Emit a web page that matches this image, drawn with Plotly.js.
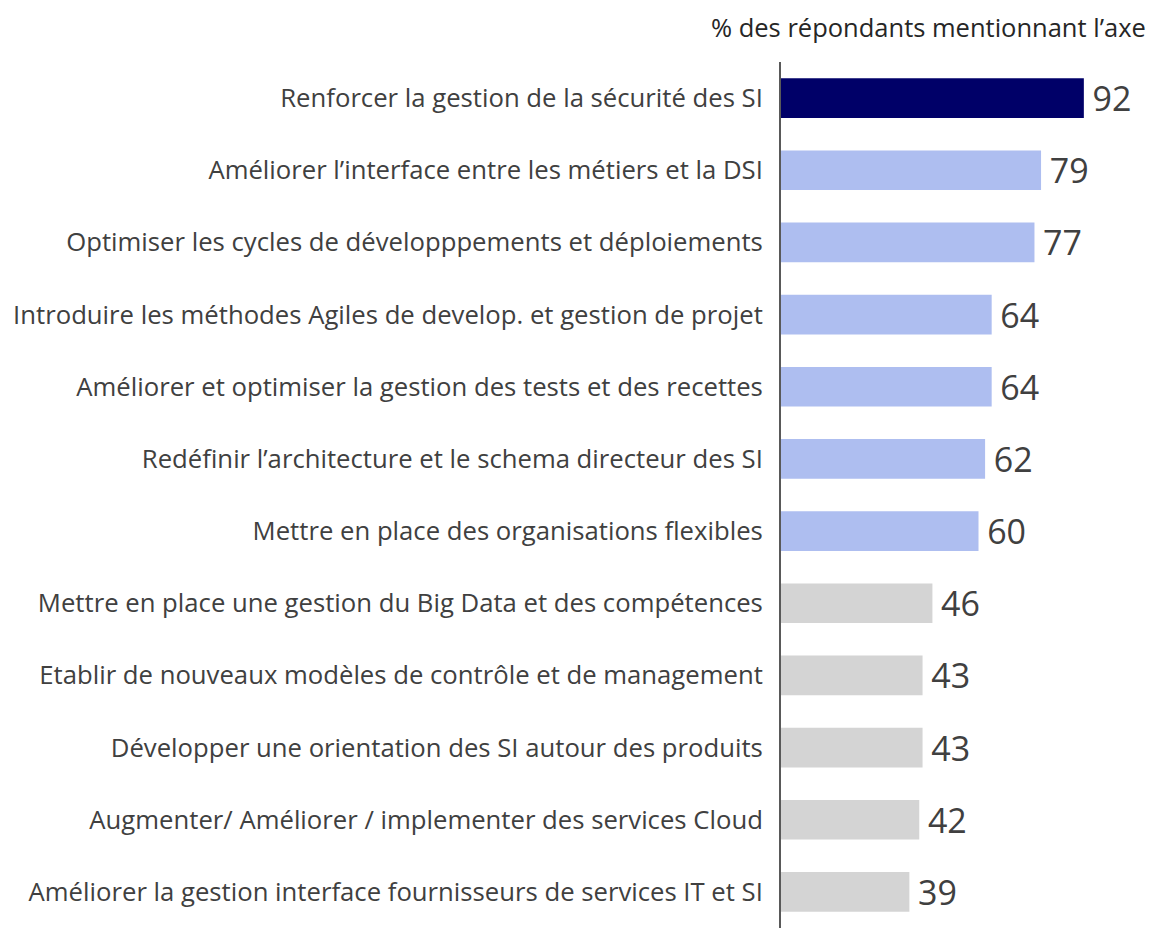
<!DOCTYPE html>
<html>
<head>
<meta charset="utf-8">
<script src="https://cdn.plot.ly/plotly-3.0.1.min.js"></script>
<style>html,body{margin:0;padding:0;background:#fff;}#chart{width:1151px;height:928px;}</style>
</head>
<body>
<div id="chart"></div>
<script>
const categories = [
  "Renforcer la gestion de la sécurité des SI",
  "Améliorer l’interface entre les métiers et la DSI",
  "Optimiser les cycles de développpements et déploiements",
  "Introduire les méthodes Agiles de develop. et gestion de projet",
  "Améliorer et optimiser la gestion des tests et des recettes",
  "Redéfinir l’architecture et le schema directeur des SI",
  "Mettre en place des organisations flexibles",
  "Mettre en place une gestion du Big Data et des compétences",
  "Etablir de nouveaux modèles de contrôle et de management",
  "Développer une orientation des SI autour des produits",
  "Augmenter/ Améliorer / implementer des services Cloud",
  "Améliorer la gestion interface fournisseurs de services IT et SI"
];
const values = [92, 79, 77, 64, 64, 62, 60, 46, 43, 43, 42, 39];
const groups = ["top","mid","mid","mid","mid","mid","mid","low","low","low","low","low"];
const groupColors = {top: "#000068", mid: "#aebef0", low: "#d4d4d4"};
const titleText = "% des répondants mentionnant l’axe";

const font = "Open Sans, sans-serif";
const trace = {
  type: "bar",
  orientation: "h",
  y: categories,
  x: values,
  text: values.map(v => "\u2009" + v),
  textposition: "outside",
  constraintext: "none",
  cliponaxis: false,
  textfont: {family: font, size: 34, color: "#404040"},
  marker: {color: groups.map(g => groupColors[g])},
  hoverinfo: "none"
};
const layout = {
  width: 1151, height: 928,
  margin: {l: 781, r: 0, t: 62, b: 0},
  paper_bgcolor: "#fff", plot_bgcolor: "#fff",
  showlegend: false,
  bargap: 0.45,
  xaxis: {range: [0, 112.4], showgrid: false, zeroline: false, showticklabels: false, showline: false, fixedrange: true},
  yaxis: {
    autorange: "reversed", showgrid: false, zeroline: false,
    showline: true, linecolor: "#595959", linewidth: 2,
    ticks: "", ticklabelstandoff: 11,
    tickfont: {family: font, size: 25.7, color: "#404040"}
  },
  annotations: [{
    text: titleText, xref: "paper", yref: "paper", x: 1, y: 1, xanchor: "right", yanchor: "middle",
    xshift: -3, yshift: 35, showarrow: false,
    font: {family: font, size: 25.5, color: "#262626"}
  }]
};
Plotly.newPlot("chart", [trace], layout, {displayModeBar: false, staticPlot: true});
</script>
</body>
</html>
